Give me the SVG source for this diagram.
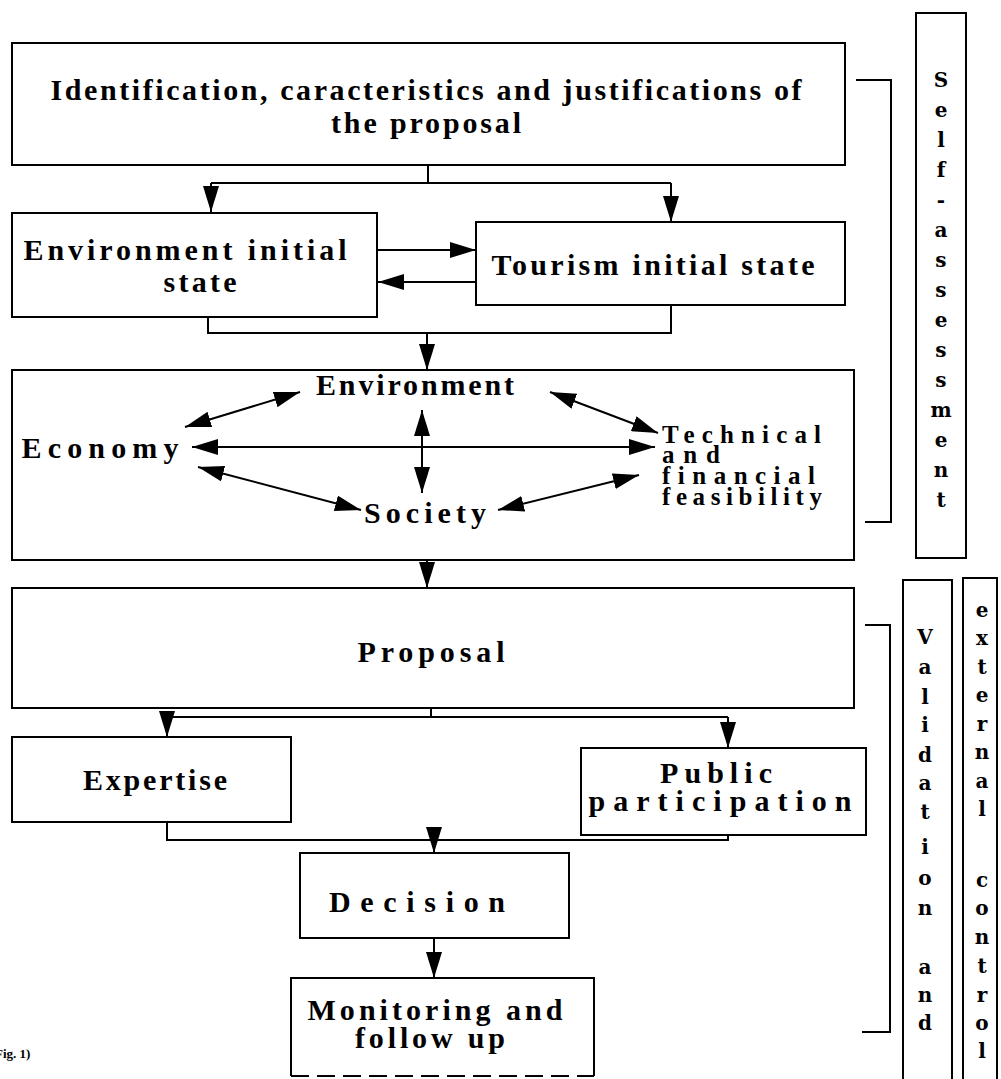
<svg xmlns="http://www.w3.org/2000/svg" width="1001" height="1079" viewBox="0 0 1001 1079">
  <style>
    .box { fill: #fff; stroke: #000; stroke-width: 2; }
    .ln { fill: none; stroke: #000; stroke-width: 2; }
    .t { font-family: "Liberation Serif", "Times New Roman", serif; font-weight: bold; font-size: 30px; fill: #000; text-anchor: middle; }
    .s { font-family: "Liberation Serif", "Times New Roman", serif; font-weight: bold; font-size: 25px; fill: #000; }
    .v { font-family: "DejaVu Serif", "Liberation Serif", serif; font-weight: bold; font-size: 20px; fill: #000; text-anchor: middle; }
    .cap { font-family: "Liberation Serif", "Times New Roman", serif; font-weight: bold; font-size: 13px; fill: #000; }
  </style>
  <defs>
    <marker id="ah" viewBox="0 0 26 16" refX="26" refY="8" markerWidth="26" markerHeight="16" markerUnits="userSpaceOnUse" orient="auto-start-reverse">
      <path d="M0,0 L26,8 L0,16 z" fill="#000"/>
    </marker>
  </defs>
  <rect width="1001" height="1079" fill="#fff"/>

  <g id="n-identification">
    <rect class="box" x="12" y="43" width="833" height="122"/>
    <text class="t" x="426" y="100" textLength="751" lengthAdjust="spacing">Identification, caracteristics and justifications of</text>
    <text class="t" x="426" y="133" textLength="190" lengthAdjust="spacing">the proposal</text>
  </g>

  <g id="n-env-initial">
    <rect class="box" x="12" y="213" width="365" height="104"/>
    <text class="t" x="185" y="260" textLength="323" lengthAdjust="spacing">Environment initial</text>
    <text class="t" x="200" y="292" textLength="73" lengthAdjust="spacing">state</text>
  </g>

  <g id="n-tourism-initial">
    <rect class="box" x="476" y="222" width="369" height="83"/>
    <text class="t" x="653" y="275" textLength="323" lengthAdjust="spacing">Tourism initial state</text>
  </g>

  <g id="n-assessment">
    <rect class="box" x="12" y="370" width="842" height="190"/>
    <text class="t" x="415" y="395" textLength="198" lengthAdjust="spacing">Environment</text>
    <text class="t" x="100" y="458" textLength="157" lengthAdjust="spacing">Economy</text>
    <text class="s" x="662" y="443" textLength="159" lengthAdjust="spacing">Technical</text>
    <text class="s" x="662" y="463" textLength="58" lengthAdjust="spacing">and</text>
    <text class="s" x="662" y="484" textLength="153" lengthAdjust="spacing">financial</text>
    <text class="s" x="662" y="505" textLength="160" lengthAdjust="spacing">feasibility</text>
    <text class="t" x="425" y="523" textLength="122" lengthAdjust="spacing">Society</text>
  </g>

  <g id="n-self-assessment">
    <rect class="box" x="916" y="13" width="50" height="545"/>
    <text class="v" x="941" y="87">S</text>
    <text class="v" x="941" y="117">e</text>
    <text class="v" x="941" y="147">l</text>
    <text class="v" x="941" y="177">f</text>
    <text class="v" x="941" y="207">-</text>
    <text class="v" x="941" y="237">a</text>
    <text class="v" x="941" y="267">s</text>
    <text class="v" x="941" y="297">s</text>
    <text class="v" x="941" y="327">e</text>
    <text class="v" x="941" y="357">s</text>
    <text class="v" x="941" y="387">s</text>
    <text class="v" x="941" y="417">m</text>
    <text class="v" x="941" y="447">e</text>
    <text class="v" x="941" y="477">n</text>
    <text class="v" x="941" y="507">t</text>
  </g>

  <g id="n-proposal">
    <rect class="box" x="12" y="588" width="842" height="120"/>
    <text class="t" x="431" y="662" textLength="147" lengthAdjust="spacing">Proposal</text>
  </g>

  <g id="n-expertise">
    <rect class="box" x="12" y="737" width="279" height="85"/>
    <text class="t" x="155" y="790" textLength="144" lengthAdjust="spacing">Expertise</text>
  </g>

  <g id="n-participation">
    <rect class="box" x="581" y="748" width="285" height="87"/>
    <text class="t" x="716" y="783" textLength="112" lengthAdjust="spacing">Public</text>
    <text class="t" x="720" y="811" textLength="263" lengthAdjust="spacing">participation</text>
  </g>

  <g id="n-decision">
    <rect class="box" x="300" y="853" width="269" height="85"/>
    <text class="t" x="417" y="912" textLength="176" lengthAdjust="spacing">Decision</text>
  </g>

  <g id="n-monitoring">
    <path class="ln" d="M291,1076 V978 H594 V1076"/>
    <path class="ln" d="M291,1076 H594" stroke-dasharray="18 8"/>
    <text class="t" x="435" y="1020" textLength="255" lengthAdjust="spacing">Monitoring and</text>
    <text class="t" x="430" y="1048" textLength="150" lengthAdjust="spacing">follow up</text>
  </g>

  <g id="n-validation">
    <path class="ln" d="M903,1079 V580 H952 V1079"/>
    <text class="v" x="925" y="644">V</text>
    <text class="v" x="925" y="674">a</text>
    <text class="v" x="925" y="704">l</text>
    <text class="v" x="925" y="732">i</text>
    <text class="v" x="925" y="762">d</text>
    <text class="v" x="925" y="790">a</text>
    <text class="v" x="925" y="819">t</text>
    <text class="v" x="925" y="854">i</text>
    <text class="v" x="925" y="885">o</text>
    <text class="v" x="925" y="915">n</text>
    <text class="v" x="925" y="974">a</text>
    <text class="v" x="925" y="1002">n</text>
    <text class="v" x="925" y="1030">d</text>
  </g>

  <g id="n-external-control">
    <path class="ln" d="M963,1079 V578 H997 V1079"/>
    <text class="v" x="982" y="617">e</text>
    <text class="v" x="982" y="645">x</text>
    <text class="v" x="982" y="674">t</text>
    <text class="v" x="982" y="702">e</text>
    <text class="v" x="982" y="731">r</text>
    <text class="v" x="982" y="759">n</text>
    <text class="v" x="982" y="788">a</text>
    <text class="v" x="982" y="816">l</text>
    <text class="v" x="982" y="887">c</text>
    <text class="v" x="982" y="915">o</text>
    <text class="v" x="982" y="944">n</text>
    <text class="v" x="982" y="973">t</text>
    <text class="v" x="982" y="1002">r</text>
    <text class="v" x="982" y="1030">o</text>
    <text class="v" x="982" y="1058">l</text>
  </g>

  <text class="cap" x="-5" y="1058">Fig. 1)</text>

  <g id="connectors">
    <!-- identification to both initial states -->
    <path class="ln" d="M428,165 V183 M211,183 H671"/>
    <path class="ln" d="M211,183 V212" marker-end="url(#ah)"/>
    <path class="ln" d="M671,183 V222" marker-end="url(#ah)"/>
    <!-- exchange between initial states -->
    <path class="ln" d="M378,250 H476" marker-end="url(#ah)"/>
    <path class="ln" d="M476,282 H378" marker-end="url(#ah)"/>
    <!-- initial states to assessment -->
    <path class="ln" d="M208,317 V333 H671 V305"/>
    <path class="ln" d="M427,333 V370" marker-end="url(#ah)"/>
    <!-- relations inside the assessment -->
    <path class="ln" d="M185,427 L300,392" marker-start="url(#ah)" marker-end="url(#ah)"/>
    <path class="ln" d="M550,392 L658,433" marker-start="url(#ah)" marker-end="url(#ah)"/>
    <path class="ln" d="M192,447 H655" marker-start="url(#ah)" marker-end="url(#ah)"/>
    <path class="ln" d="M422,410 V493" marker-start="url(#ah)" marker-end="url(#ah)"/>
    <path class="ln" d="M198,467 L361,510" marker-start="url(#ah)" marker-end="url(#ah)"/>
    <path class="ln" d="M498,510 L639,475" marker-start="url(#ah)" marker-end="url(#ah)"/>
    <!-- assessment to proposal -->
    <path class="ln" d="M427,560 V588" marker-end="url(#ah)"/>
    <!-- proposal to expertise and participation -->
    <path class="ln" d="M431,708 V717 M167,717 H728"/>
    <path class="ln" d="M167,717 V737" marker-end="url(#ah)"/>
    <path class="ln" d="M728,717 V748" marker-end="url(#ah)"/>
    <!-- expertise and participation to decision -->
    <path class="ln" d="M167,822 V840 H728 V835"/>
    <path class="ln" d="M434,840 V853" marker-end="url(#ah)"/>
    <!-- decision to monitoring -->
    <path class="ln" d="M434,938 V978" marker-end="url(#ah)"/>
    <!-- side brackets -->
    <path class="ln" d="M856,80 H891 V522 H865"/>
    <path class="ln" d="M865,625 H890 V1032 H862"/>
  </g>
</svg>
